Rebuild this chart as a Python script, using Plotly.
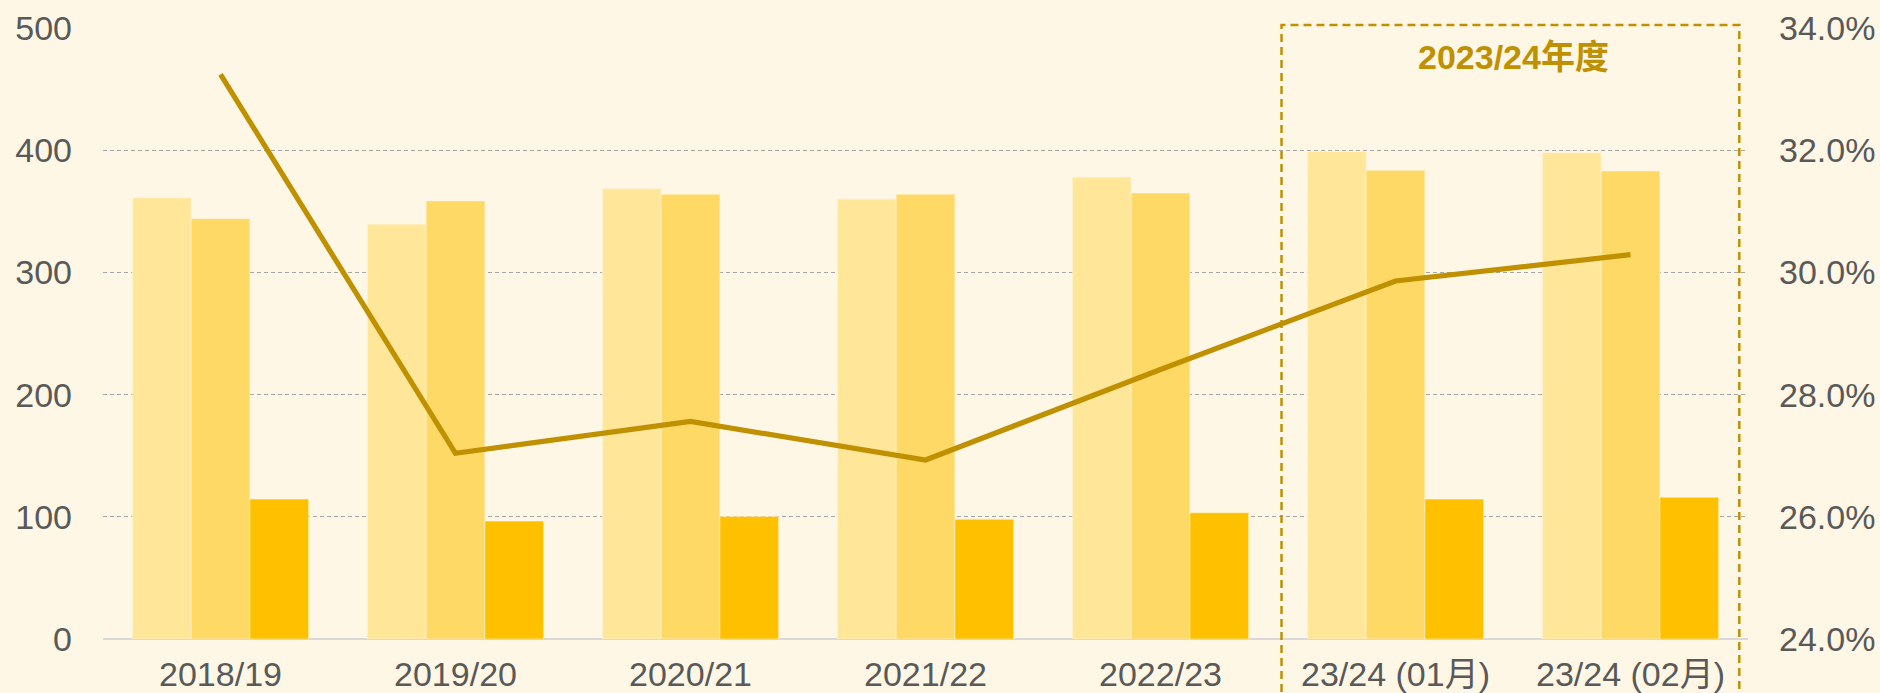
import plotly.graph_objects as go

categories = ["2018/19", "2019/20", "2020/21", "2021/22", "2022/23", "23/24 (01月)", "23/24 (02月)"]
series_a = [361, 339.5, 368.5, 360, 378, 399, 398]
series_b = [344, 358.5, 364, 364, 365, 383.5, 383]
series_c = [114.5, 96.5, 100.3, 98, 103.3, 114.5, 116]
ratio_pct = [33.24, 27.04, 27.56, 26.93, 28.41, 29.86, 30.29]
left_ticks = [0, 100, 200, 300, 400, 500]
right_ticks = [24, 26, 28, 30, 32, 34]
right_tick_labels = ["24.0%", "26.0%", "28.0%", "30.0%", "32.0%", "34.0%"]
highlight_label = "2023/24年度"

BG = "#FEF7E5"
TXT = "#595959"
GOLD = "#BF9000"
FS = 34

fig = go.Figure()
for name, vals, col in [("A", series_a, "#FFE699"), ("B", series_b, "#FFD966"), ("C", series_c, "#FFC000")]:
    fig.add_trace(go.Bar(x=categories, y=vals, name=name, marker=dict(color=col, line=dict(color=BG, width=0.5)),
                         yaxis="y"))

fig.add_trace(go.Scatter(x=categories, y=ratio_pct, mode="lines", name="比率",
                         line=dict(color=GOLD, width=5.2), yaxis="y2"))

fig.add_shape(type="rect", xref="x", yref="paper", x0=4.515, x1=6.463, y0=-0.12, y1=1.005,
              line=dict(color=GOLD, width=2.5, dash="8px,5px"), fillcolor="rgba(0,0,0,0)", layer="above")

fig.add_annotation(x=5.5, xref="x", yref="paper", y=1 - (57.5 - 28) / 611.3, yanchor="middle", xanchor="center",
                   text="<b>" + highlight_label + "</b>",
                   showarrow=False, font=dict(size=34, color=GOLD, family="Liberation Sans, Noto Sans CJK SC"))

fig.update_layout(
    width=1880, height=693,
    margin=dict(l=103, r=132, t=28, b=54, autoexpand=False),
    paper_bgcolor=BG, plot_bgcolor=BG,
    barmode="group", bargap=0.25, bargroupgap=0,
    showlegend=False,
    font=dict(family="Liberation Sans, Arial, Noto Sans CJK SC", size=FS, color=TXT),
    xaxis=dict(showgrid=False, showline=False, ticks="", tickfont=dict(size=FS, color=TXT),
               ticklabelstandoff=12, automargin=False),
    yaxis=dict(range=[0, 500], tickvals=left_ticks, showgrid=True, gridcolor="#A6A6A6", griddash="4px,3px",
               gridwidth=1.4, zeroline=True, zerolinecolor="#D9D9D9", zerolinewidth=2,
               tickfont=dict(size=FS, color=TXT), ticklabelstandoff=30, automargin=False),
    yaxis2=dict(range=[24, 34], tickmode="array", tickvals=right_ticks, ticktext=right_tick_labels,
                overlaying="y", side="right", showgrid=False,
                zeroline=False, tickfont=dict(size=FS, color=TXT),
                ticklabelstandoff=30, automargin=False),
)

fig.write_html("out.html", config={"displayModeBar": False},
               post_script="document.body.style.margin='0';document.body.style.background='" + BG + "';")
